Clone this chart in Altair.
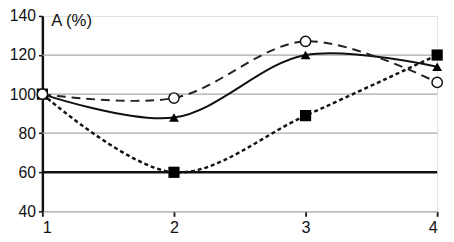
import altair as alt
import pandas as pd

x_vals = [1, 2, 3, 4]
circle_vals = [100, 98, 127, 106]
triangle_vals = [100, 88, 120, 114]
square_vals = [100, 60, 89, 120]
grid_vals = [80, 100, 120]
ref_val = [60]
y_ticks = [40, 60, 80, 100, 120, 140]

df_c = pd.DataFrame({"x": x_vals, "y": circle_vals})
df_t = pd.DataFrame({"x": x_vals, "y": triangle_vals})
df_s = pd.DataFrame({"x": x_vals, "y": square_vals})
df_g = pd.DataFrame({"y": grid_vals})
df_r = pd.DataFrame({"y": ref_val})

FONT = "Liberation Sans"
xs = alt.Scale(domain=[1, 4], nice=False, zero=False)
ys = alt.Scale(domain=[40, 140], nice=False, zero=False)

X = alt.X("x:Q", scale=xs, axis=alt.Axis(values=x_vals, format="d", title=None, grid=False,
          domainColor="#aaaaaa", domainWidth=1.5, tickColor="#222222", tickSize=5, tickWidth=2,
          labelFont=FONT, labelFontSize=16.5, labelColor="#111111", labelPadding=3))
Y = alt.Y("y:Q", scale=ys, axis=alt.Axis(values=y_ticks, title=None, grid=False,
          domainColor="#111111", domainWidth=2.5, tickColor="#111111", tickSize=4, tickWidth=1.5,
          labelFont=FONT, labelFontSize=16, labelColor="#111111", labelPadding=3))

grid = alt.Chart(df_g).mark_rule(color="#aaaaaa", strokeWidth=1.2).encode(y=Y)
ref = alt.Chart(df_r).mark_rule(color="#111111", strokeWidth=2.5).encode(y=Y)

interp = "catmull-rom"
line_c = alt.Chart(df_c).mark_line(color="#222222", strokeWidth=2, strokeDash=[9, 6],
                                   interpolate=interp).encode(x=X, y=Y)
line_t = alt.Chart(df_t).mark_line(color="#111111", strokeWidth=2,
                                   interpolate=interp).encode(x=X, y=Y)
line_s = alt.Chart(df_s).mark_line(color="#111111", strokeWidth=2.5, strokeDash=[4, 3],
                                   interpolate=interp).encode(x=X, y=Y)

pt_c = alt.Chart(df_c).mark_point(shape="circle", filled=True, fill="white", stroke="#111111",
                                  strokeWidth=1.5, size=110, opacity=1).encode(x=X, y=Y)
pt_t = alt.Chart(df_t).mark_point(shape="triangle-up", filled=True, color="#000000",
                                  size=100, opacity=1).encode(x=X, y=Y)
pt_s = alt.Chart(df_s).mark_point(shape="square", filled=True, color="#000000",
                                  size=130, opacity=1).encode(x=X, y=Y)

title = alt.Chart(pd.DataFrame({"t": ["A (%)"]})).mark_text(
    font=FONT, fontSize=17, align="left", baseline="middle", color="#111111").encode(
    text="t:N", x=alt.value(9), y=alt.value(5))

chart = alt.layer(grid, ref, line_s, line_t, line_c, pt_s, pt_t, pt_c, title).properties(
    width=402, height=199,
    autosize=alt.AutoSizeParams(type="none"),
    padding={"left": 35, "top": 6, "right": 9, "bottom": 25},
).configure_view(stroke=None).configure(background="white")

chart.save("out.html", embed_options={"renderer": "svg", "actions": False})
